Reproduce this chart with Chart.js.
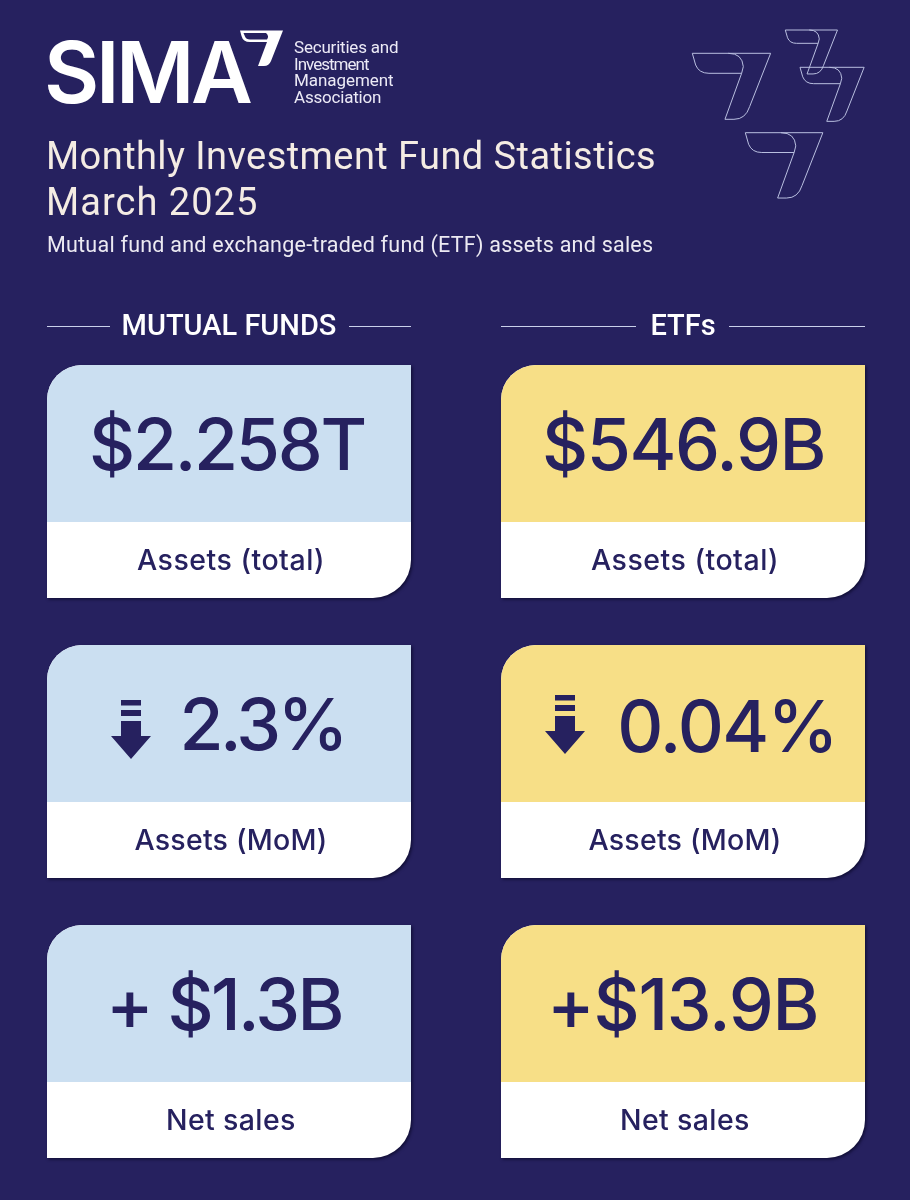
<!DOCTYPE html>
<html><head><meta charset="utf-8">
<style>html,body{margin:0;padding:0;background:#26215f}canvas{display:block}</style>
<script src="https://cdn.jsdelivr.net/npm/chart.js@4/dist/chart.umd.min.js"></script>
</head><body>
<canvas id="c" width="910" height="1200"></canvas>
<script>
// ---- data ----
const fundTypes = ['MUTUAL FUNDS', 'ETFs'];
const metrics = ['Assets (total)', 'Assets (MoM)', 'Net sales'];
const mutualFundValues = ['$2.258T', '2.3%', '+ $1.3B'];
const etfValues = ['$546.9B', '0.04%', '+$13.9B'];
const mutualFundDirections = ['', 'down', ''];
const etfDirections = ['', 'down', ''];
const orgLines = ['Securities and', 'Investment', 'Management', 'Association'];
const headlineLines = ['Monthly Investment Fund Statistics', 'March 2025'];
const subhead = 'Mutual fund and exchange-traded fund (ETF) assets and sales';

// ---- style / layout ----
const NAVY = '#26215f', BLUE = '#cbdff1', YELLOW = '#f7df87';
const valueFont = '500 71.5px Inter', labelFont = '500 28.5px Inter';
const HEAD = 'Roboto';
// value ink box [left offset from column centre, target width, baseline offset]
const valueBox = {
  '$2.258T': [-137, 272.5, -11.5], '2.3%': [-45.5, 158, -11.5], '+ $1.3B': [-117, 229.5, -11.5],
  '$546.9B': [-138, 278.5, -11.5], '0.04%': [-62.8, 211.3, -10], '+$13.9B': [-130, 263.5, -11.5]
};
const labelBox = { 'Assets (total)': [185, 0.5], 'Assets (MoM)': [190, 0.5], 'Net sales': [127, 2.5] };
const arrowPos = [[-98, -61.5], [-118, -66.5]];

function fit(ctx, text, x, y, width, font, color) {
  ctx.save();
  ctx.font = font; ctx.fillStyle = color;
  ctx.textAlign = 'left'; ctx.textBaseline = 'alphabetic';
  const m = ctx.measureText(text);
  const ink = m.actualBoundingBoxLeft + m.actualBoundingBoxRight;
  ctx.letterSpacing = ((width - ink) / Math.max(1, text.length - 1)).toFixed(3) + 'px';
  ctx.fillText(text, x + m.actualBoundingBoxLeft, y);
  ctx.restore();
}
function sevenPath(ctx, x, y, s) {
  const X = u => x + u * s, Y = v => y + v * s;
  ctx.beginPath();
  ctx.moveTo(X(0), Y(0)); ctx.lineTo(X(235), Y(0)); ctx.lineTo(X(172), Y(160));
  ctx.quadraticCurveTo(X(160), Y(198), X(125), Y(198));
  ctx.lineTo(X(98), Y(198)); ctx.lineTo(X(148), Y(60)); ctx.lineTo(X(50), Y(60));
  ctx.quadraticCurveTo(X(20), Y(60), X(10), Y(35)); ctx.closePath();
  ctx.moveTo(X(108), Y(0)); ctx.quadraticCurveTo(X(150), Y(0), X(153), Y(40)); ctx.lineTo(X(148), Y(60));
}
function card(ctx, cx, cy, color) {
  const l = cx - 182, r = cx + 182, t = cy - 116.5, b = cy + 116.5, split = cy + 40.5;
  const shape = () => { ctx.beginPath(); ctx.moveTo(l + 35, t); ctx.lineTo(r, t);
    ctx.arcTo(r, b, r - 38, b, 38); ctx.lineTo(l, b);
    ctx.arcTo(l, t, l + 35, t, 35); ctx.closePath(); };
  ctx.save();
  ctx.shadowColor = 'rgba(5,3,30,.6)'; ctx.shadowBlur = 3; ctx.shadowOffsetX = 1.5; ctx.shadowOffsetY = 1.5;
  shape(); ctx.fillStyle = '#fff'; ctx.fill();
  ctx.restore();
  ctx.save(); shape(); ctx.clip(); ctx.fillStyle = color; ctx.fillRect(l, t, 364, split - t); ctx.restore();
}
function arrowDown(ctx, cx, top) {
  ctx.fillStyle = NAVY;
  ctx.fillRect(cx - 10, top, 20, 5.5);
  ctx.fillRect(cx - 10, top + 10, 20, 6);
  ctx.beginPath();
  ctx.moveTo(cx - 10, top + 21); ctx.lineTo(cx + 10, top + 21); ctx.lineTo(cx + 10, top + 36);
  ctx.lineTo(cx + 20, top + 36); ctx.lineTo(cx, top + 59); ctx.lineTo(cx - 20, top + 36);
  ctx.lineTo(cx - 10, top + 36); ctx.closePath(); ctx.fill();
}

const infographic = {
  id: 'infographic',
  beforeDraw(chart) {
    const ctx = chart.ctx;
    ctx.save();
    ctx.fillStyle = NAVY; ctx.fillRect(0, 0, chart.width, chart.height);
    // logo
    fit(ctx, 'SIMA', 47, 103, 204, '600 85px Inter', '#fff');
    ctx.fillStyle = '#fff';
    ctx.beginPath();
    ctx.moveTo(240, 30.5); ctx.lineTo(283, 30.5); ctx.lineTo(271, 61); ctx.quadraticCurveTo(269, 66, 264, 66);
    ctx.lineTo(258, 66); ctx.lineTo(267, 42); ctx.lineTo(250, 42); ctx.quadraticCurveTo(243, 42, 241.5, 36); ctx.closePath();
    ctx.moveTo(243.5, 33); ctx.lineTo(245, 36.5); ctx.quadraticCurveTo(246, 39.5, 250, 39.5); ctx.lineTo(267, 39.5);
    ctx.quadraticCurveTo(269.5, 36, 266, 33); ctx.closePath();
    ctx.fill('evenodd');
    const orgW = [104, 74, 98, 87], orgX = [294, 295, 295, 294], orgY = [53, 70, 86, 103];
    orgLines.forEach((s, i) => fit(ctx, s, orgX[i], orgY[i], orgW[i], '400 17px Roboto', '#eceaf6'));
    // headline
    fit(ctx, headlineLines[0], 49, 169, 605, '400 38px ' + HEAD, '#f4ece4');
    fit(ctx, headlineLines[1], 49, 215, 207, '400 38px ' + HEAD, '#f4ece4');
    fit(ctx, subhead, 48, 252, 605, '400 21.5px ' + HEAD, '#eceaf2');
    // decorative outlines
    ctx.strokeStyle = '#b9bfe0'; ctx.lineWidth = 1;
    [[692.3, 53.3, 1/3], [785.3, 30, .222], [800, 67.3, .273], [745.3, 132.7, .33]].forEach(a => { sevenPath(ctx, a[0], a[1], a[2]); ctx.stroke(); });
    // rules beside column headings
    ctx.strokeStyle = '#c9d0ea'; ctx.lineWidth = 1;
    [[47, 110], [349, 411], [501, 636], [729, 865]].forEach(a => { ctx.beginPath(); ctx.moveTo(a[0], 326.5); ctx.lineTo(a[1], 326.5); ctx.stroke(); });
    ctx.restore();
  },
  afterDatasetsDraw(chart) {
    const ctx = chart.ctx;
    chart.data.datasets.forEach((ds, di) => {
      chart.getDatasetMeta(di).data.forEach((pt, i) => {
        const cx = pt.x, cy = pt.y;
        card(ctx, cx, cy, ds.cardColor);
        const value = ds.values[i], box = valueBox[value];
        fit(ctx, value, cx + box[0], cy + box[2], box[1], valueFont, NAVY);
        if (ds.directions[i] === 'down') arrowDown(ctx, cx + arrowPos[di][0], cy + arrowPos[di][1]);
        const lb = labelBox[metrics[i]];
        fit(ctx, metrics[i], cx - lb[0] / 2 + lb[1], cy + 88.5, lb[0], labelFont, NAVY);
      });
    });
  }
};

new Chart(document.getElementById('c'), {
  type: 'scatter',
  plugins: [infographic],
  data: {
    datasets: [
      { label: fundTypes[0], values: mutualFundValues, directions: mutualFundDirections, cardColor: BLUE,
        data: metrics.map(m => ({ x: fundTypes[0], y: m })), pointRadius: 0 },
      { label: fundTypes[1], values: etfValues, directions: etfDirections, cardColor: YELLOW,
        data: metrics.map(m => ({ x: fundTypes[1], y: m })), pointRadius: 0 }
    ]
  },
  options: {
    responsive: false, animation: false, devicePixelRatio: 1,
    layout: { padding: { left: 2, right: 0, top: 301.5, bottom: 18.5 } },
    events: [],
    plugins: { legend: { display: false }, tooltip: { enabled: false }, title: { display: false } },
    scales: {
      x: { type: 'category', labels: fundTypes, position: 'top', offset: true,
        grid: { display: false, drawTicks: false }, border: { display: false },
        afterFit: s => { s.height = 40; },
        ticks: { color: '#ffffff', font: { family: HEAD, size: 29, weight: '500' }, padding: -4, maxRotation: 0 } },
      y: { type: 'category', labels: metrics, display: false, offset: true }
    }
  }
});
</script>
</body></html>
